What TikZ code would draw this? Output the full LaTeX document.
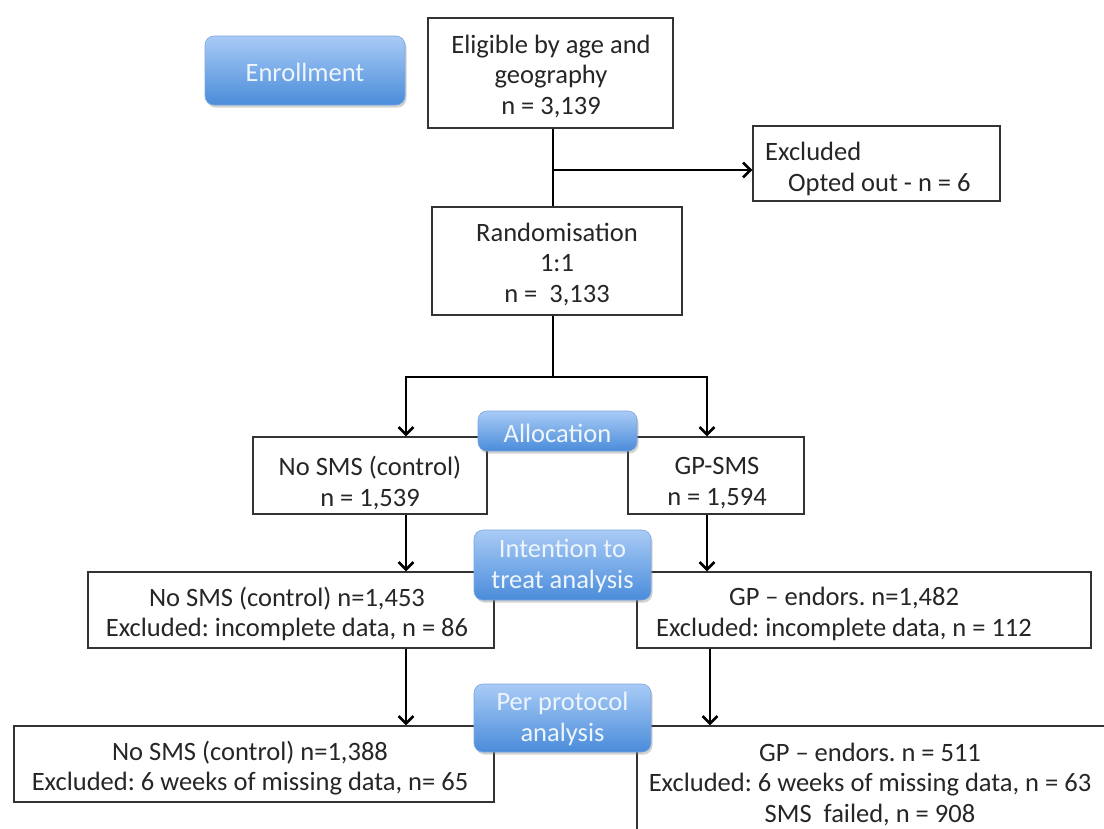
\documentclass[tikz,border=0pt]{standalone}
\usepackage{fontspec}
\setmainfont{Carlito}
\frenchspacing
\usetikzlibrary{arrows.meta,shadows,fit}
\definecolor{btntop}{HTML}{A9CBF6}
\definecolor{btnbot}{HTML}{4A8CDA}
\definecolor{btnedge}{HTML}{7AA6DE}
\definecolor{btntext}{HTML}{EEF5FD}
\definecolor{boxline}{HTML}{333333}
\tikzset{
  x=1pt, y=-1pt,
  txt/.style={font=\fontsize{26.5}{30.5}\selectfont, align=center, inner sep=0pt, text=black!85},
  flowbox/.style={draw=boxline, line width=1.3pt, fill=white, inner sep=0pt},
  button/.style={draw=btnedge, line width=0.6pt, rounded corners=9pt, top color=btntop, bottom color=btnbot, inner sep=0pt,
     drop shadow={opacity=0.35, shadow xshift=1.5pt, shadow yshift=-2.5pt}},
  btntxt/.style={font=\fontsize{26.5}{30.5}\selectfont, align=center, inner sep=0pt, text=btntext},
  conn/.style={draw=black, line width=2.9pt},
  arr/.style={conn, -{Straight Barb[length=7.5pt,width=15pt,line width=2.6pt]}},
}
\begin{document}
\begin{tikzpicture}
\useasboundingbox (0,0) rectangle (1104,828);
\clip (0,0) rectangle (1104,828);
\fill[white] (0,0) rectangle (1104,828);

% named coordinates for connector routing
\coordinate (spine) at (553,170);
\coordinate (split) at (553,377);
\coordinate (cl) at (406,377);
\coordinate (cr) at (707,377);
\coordinate (crr) at (710,377);

% boxes
\node[flowbox, fit={(428,18) (673,128)}] (elig) {};
\node[txt] (eligt) at (551,76) {Eligible by age and\\geography\\n = 3,139};

\node[flowbox, fit={(753,126) (1000,201)}] (excl) {};
\node[txt, align=left, anchor=west] (exclt) at (765,169) {Excluded\\\hspace*{23pt}Opted out - n = 6};

\node[flowbox, fit={(432,207) (682,315)}] (rand) {};
\node[txt] (randt) at (557,264) {Randomisation\\1:1\\n = \ 3,133};

\node[flowbox, fit={(253,437) (487,514)}] (ctrl) {};
\node[txt] (ctrlt) at (370,483) {No SMS (control)\\n = 1,539};

\node[flowbox, fit={(628,437) (804,514)}] (gpsms) {};
\node[txt] (gpsmst) at (717,483) {GP-SMS\\n = 1,594};

\node[flowbox, fit={(88,572) (494,648)}] (ittl) {};
\node[txt] (ittlt) at (287,614) {No SMS (control) n=1,453\\Excluded: incomplete data, n = 86};

\node[flowbox, fit={(637,572) (1091,648)}] (ittr) {};
\node[txt] (ittrt) at (844,614) {GP -- endors. n=1,482\\Excluded: incomplete data, n = 112};

\node[flowbox, fit={(14,726) (494,802)}] (ppl) {};
\node[txt] (pplt) at (250,768) {No SMS (control) n=1,388\\Excluded: 6 weeks of missing data, n= 65};

\node[flowbox, fit={(637,726) (1120,850)}] (ppr) {};
\node[txt] (pprt) at (870,784) {GP -- endors. n = 511\\Excluded: 6 weeks of missing data, n = 63\\SMS \ failed, n = 908};

% connectors
\draw[conn] (elig.south -| spine) -- (rand.north -| spine);
\draw[arr] (spine) -- (excl.west |- spine);
\draw[conn] (rand.south -| split) -- (split);
\draw[conn, line cap=rect] (cl) -- (cr);
\draw[arr] (cl) -- (ctrl.north -| cl);
\draw[arr] (cr) -- (gpsms.north -| cr);
\draw[arr] (ctrl.south -| cl) -- (ittl.north -| cl);
\draw[arr] (gpsms.south -| cr) -- (ittr.north -| cr);
\draw[arr] (ittl.south -| cl) -- (ppl.north -| cl);
\draw[arr] (ittr.south -| crr) -- (ppr.north -| crr);

% stage buttons
\node[button, fit={(205,36) (405,105)}] (enroll) {};
\node[btntxt] (enrollt) at ([yshift=-2pt]enroll.center) {Enrollment};
\node[button, fit={(478,411) (637,451)}] (alloc) {};
\node[btntxt] (alloct) at ([yshift=-2pt]alloc.center) {Allocation};
\node[button, fit={(474,530) (651,600)}] (itt) {};
\node[btntxt] (ittt) at ([yshift=-1pt]itt.center) {Intention to\\treat analysis};
\node[button, fit={(474,684) (651,752)}] (pp) {};
\node[btntxt] (ppt) at ([yshift=-1pt]pp.center) {Per protocol\\analysis};
\end{tikzpicture}
\end{document}
